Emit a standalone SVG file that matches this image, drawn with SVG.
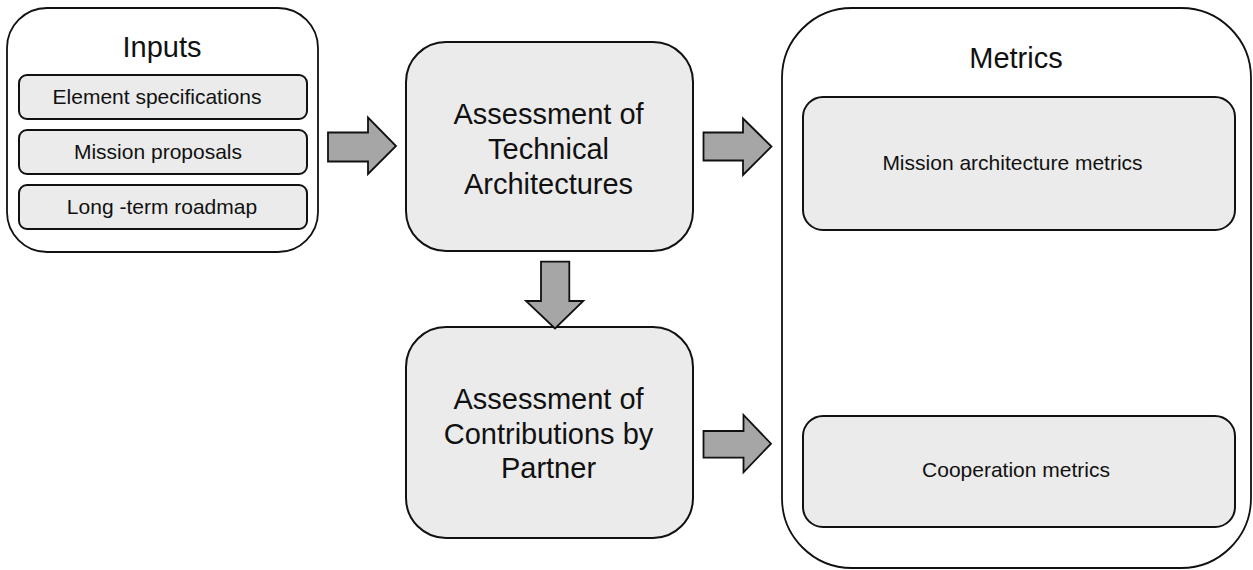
<svg xmlns="http://www.w3.org/2000/svg" width="1253" height="570" viewBox="0 0 1253 570">
<style>
.outer{fill:#ffffff;stroke:#111;stroke-width:1.8}
.box{fill:#ebebeb;stroke:#111;stroke-width:2}
.arrow{fill:#a6a6a6;stroke:#111;stroke-width:1.8;stroke-linejoin:miter}
text{font-family:"Liberation Sans",Arial,sans-serif;fill:#111;text-anchor:middle}
.big{font-size:29px}
.small{font-size:21px}
</style>
<rect width="1253" height="570" fill="#ffffff"/>
<g id="inputs">
<rect class="outer" x="7" y="8" width="311" height="244" rx="40" ry="40"/>
<text class="big" x="162" y="57">Inputs</text>
<g id="element-specifications">
<rect class="box" x="19" y="75" width="288" height="44" rx="8" ry="8"/>
<text class="small" x="157" y="104">Element specifications</text>
</g>
<g id="mission-proposals">
<rect class="box" x="19" y="130" width="288" height="44" rx="8" ry="8"/>
<text class="small" x="158" y="159">Mission proposals</text>
</g>
<g id="long-term-roadmap">
<rect class="box" x="19" y="185" width="288" height="44" rx="8" ry="8"/>
<text class="small" x="162" y="214">Long -term roadmap</text>
</g>
</g>
<g id="technical">
<rect class="box" x="406" y="42" width="287" height="209" rx="40" ry="40"/>
<text class="big" x="548.5" y="124">Assessment of</text>
<text class="big" x="548.5" y="159">Technical</text>
<text class="big" x="548.5" y="194">Architectures</text>
</g>
<g id="contributions">
<rect class="box" x="406" y="327" width="287" height="211" rx="40" ry="40"/>
<text class="big" x="548.5" y="409">Assessment of</text>
<text class="big" x="548.5" y="443.5">Contributions by</text>
<text class="big" x="548.5" y="478">Partner</text>
</g>
<g id="metrics">
<rect class="outer" x="782" y="8" width="469" height="560" rx="70" ry="70"/>
<text class="big" x="1016" y="68">Metrics</text>
<g id="mission-architecture-metrics">
<rect class="box" x="803" y="97" width="432" height="133" rx="20" ry="20"/>
<text class="small" x="1012.5" y="170">Mission architecture metrics</text>
</g>
<g id="cooperation-metrics">
<rect class="box" x="803" y="416" width="432" height="111" rx="20" ry="20"/>
<text class="small" x="1016" y="477">Cooperation metrics</text>
</g>
</g>
<g id="connectors">
<polygon class="arrow" points="328,132.5 368,132.5 368,117.5 396,146 368,174 368,161.5 328,161.5"/>
<polygon class="arrow" points="703.5,132.5 743,132.5 743,118.5 771.5,146.5 743,175 743,160.5 703.5,160.5"/>
<polygon class="arrow" points="703.5,431 743.5,431 743.5,415 771,443.7 743.5,472.3 743.5,457.7 703.5,457.7"/>
<polygon class="arrow" points="541,261.7 569.3,261.7 569.3,301 583.3,301 555,328.5 526,301 541,301"/>
</g>
</svg>
